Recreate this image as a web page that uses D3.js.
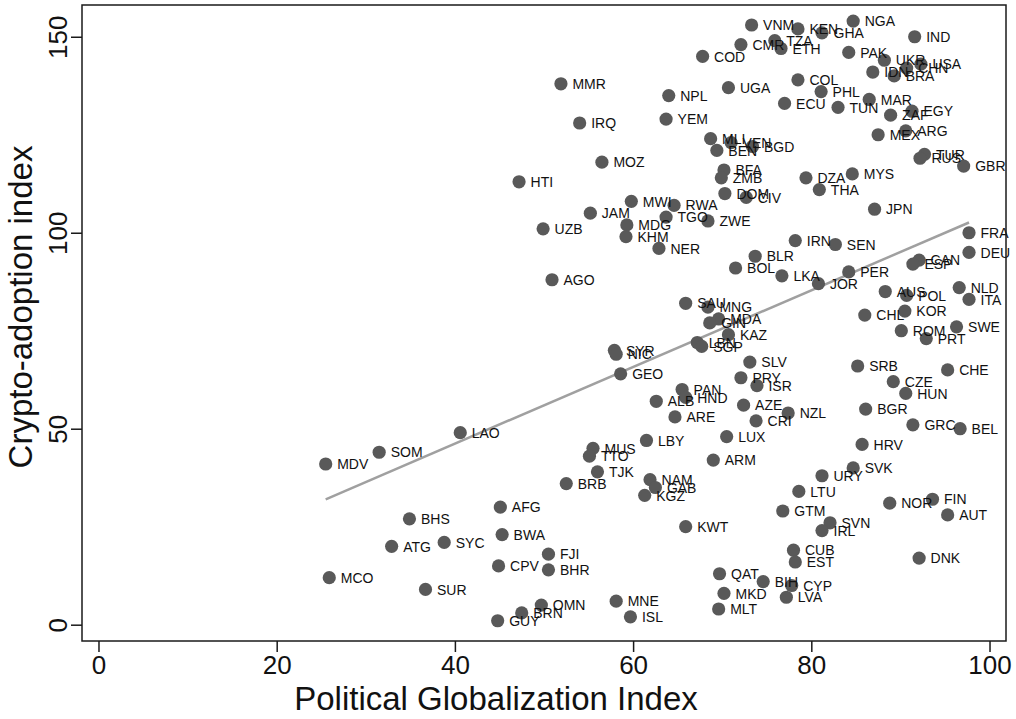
<!DOCTYPE html>
<html><head><meta charset="utf-8">
<script src="https://cdn.jsdelivr.net/npm/d3@7"></script>
<style>body{margin:0;background:#fff}svg{display:block}text{font-family:"Liberation Sans",Arial,sans-serif}</style>
</head><body><svg id="c" width="1016" height="719"></svg>
<script>
const codes = ["HTI","VNM","CMR","COD","MMR","UGA","NPL","IRQ","YEM","MLI","VEN","BEN","BGD","MOZ","BFA","ZMB","DOM","CIV","MWI","RWA","JAM","TGO","ZWE","ECU","KEN","GHA","TZA","ETH","NGA","IND","PAK","UKR","IDN","BRA","CHN","USA","COL","PHL","TUN","MAR","ZAF","EGY","MEX","ARG","TUR","RUS","GBR","DZA","MYS","THA","JPN","UZB","MDG","KHM","NER","BLR","BOL","AGO","LKA","SAU","MNG","MDA","GIN","KAZ","LBN","SGP","SYR","NIC","GEO","SLV","PRY","ISR","PAN","HND","ALB","AZE","ARE","CRI","IRN","SEN","FRA","DEU","CAN","ESP","PER","JOR","AUS","POL","NLD","ITA","KOR","CHL","ROM","PRT","SWE","SRB","CHE","CZE","HUN","BGR","NZL","GRC","BEL","HRV","SVK","URY","LTU","NOR","FIN","AUT","GTM","SVN","IRL","CUB","EST","DNK","CYP","BIH","LVA","LBY","LUX","MUS","TTO","ARM","TJK","BRB","NAM","GAB","KGZ","KWT","FJI","BHR","QAT","MKD","MLT","OMN","MNE","ISL","LAO","SOM","MDV","AFG","BHS","BWA","ATG","SYC","CPV","MCO","SUR","GUY","BRN"];
const politicalGlob = [47.2,73.3,72.1,67.8,51.9,70.7,64.0,54.0,63.7,68.7,71.0,69.4,73.4,56.5,70.2,69.9,70.3,72.7,59.8,64.6,55.2,63.7,68.4,77.0,78.5,81.2,75.9,76.6,84.7,91.6,84.2,88.2,86.9,89.3,90.7,92.3,78.5,81.1,83.0,86.5,88.9,91.3,87.5,90.6,92.7,92.2,97.1,79.4,84.6,80.9,87.1,49.9,59.3,59.2,62.9,73.7,71.5,50.9,76.7,65.9,68.4,69.6,68.6,70.7,67.2,67.7,57.9,58.1,58.6,73.1,72.1,73.9,65.5,65.9,62.6,72.4,64.7,73.8,78.2,82.7,97.7,97.7,92.1,91.4,84.2,80.8,88.3,90.7,96.6,97.7,90.5,86.0,90.1,92.9,96.3,85.2,95.3,89.2,90.6,86.1,77.4,91.4,96.7,85.7,84.7,81.2,78.6,88.8,93.6,95.3,76.8,82.1,81.2,78.0,78.2,92.1,77.8,74.6,77.2,61.5,70.5,55.5,55.1,69.0,56.0,52.5,61.9,62.5,61.3,65.9,50.5,50.5,69.7,70.2,69.6,49.7,58.1,59.7,40.6,31.5,25.5,45.1,34.9,45.3,32.9,38.8,44.9,25.9,36.7,44.8,47.5];
const cryptoAdoption = [113,153,148,145,138,137,135,128,129,124,123,121,122,118,116,114,110,109,108,107,105,104,103,133,152,151,149,147,154,150,146,144,141,140,142,143,139,136,132,134,130,131,125,126,120,119,117,114,115,111,106,101,102,99,96,94,91,88,89,82,81,78,77,74,72,71,70,69,64,67,63,61,60,58,57,56,53,52,98,97,100,95,93,92,90,87,85,84,86,83,80,79,75,73,76,66,65,62,59,55,54,51,50,46,40,38,34,31,32,28,29,26,24,19,16,17,10,11,7,47,48,45,43,42,39,36,37,35,33,25,18,14,13,8,4,5,6,2,49,44,41,30,27,23,20,21,15,12,9,1,3];
const xTicks = [0,20,40,60,80,100];
const yTicks = [0,50,100,150];
const xTitle = "Political Globalization Index";
const yTitle = "Crypto-adoption index";

const svg = d3.select("#c");
const L=82, R=1006, T=5, B=641;
const x = d3.scaleLinear().domain([-1.85,101.85]).range([L,R]);
const y = d3.scaleLinear().domain([-4.16,158.1]).range([B,T]);

svg.append("rect").attr("x",0).attr("y",0).attr("width",1016).attr("height",719).attr("fill","#fff");

// regression line (OLS from data)
const n = codes.length;
const mx = d3.mean(politicalGlob), my = d3.mean(cryptoAdoption);
let sxy=0,sxx=0;
for(let i=0;i<n;i++){sxy+=(politicalGlob[i]-mx)*(cryptoAdoption[i]-my);sxx+=(politicalGlob[i]-mx)**2;}
const b=sxy/sxx, a=my-b*mx;
const [x0,x1]=d3.extent(politicalGlob);
svg.append("line").attr("x1",x(x0)).attr("y1",y(a+b*x0)).attr("x2",x(x1)).attr("y2",y(a+b*x1))
  .attr("stroke","#a0a0a0").attr("stroke-width",2.5);

const g = svg.append("g");
codes.forEach((c,i)=>{
  g.append("circle").attr("cx",x(politicalGlob[i])).attr("cy",y(cryptoAdoption[i])).attr("r",6.6).attr("fill","#595959");
});
codes.forEach((c,i)=>{
  g.append("text").attr("x",x(politicalGlob[i])+11.5).attr("y",y(cryptoAdoption[i])+1.5)
   .attr("dominant-baseline","middle").attr("font-size",14).attr("fill","#111").text(c);
});

// frame
svg.append("rect").attr("x",L).attr("y",T).attr("width",R-L).attr("height",B-T)
  .attr("fill","none").attr("stroke","#1a1a1a").attr("stroke-width",1.5);

const xa = svg.append("g").attr("transform",`translate(0,${B})`)
  .call(d3.axisBottom(x).tickValues(xTicks).tickSize(11).tickPadding(4).tickFormat(d3.format("d")));
xa.select(".domain").remove();
xa.selectAll("line").attr("stroke","#1a1a1a").attr("stroke-width",1.5);
xa.selectAll("text").attr("font-size",26).attr("fill","#111").attr("font-family","Liberation Sans, Arial, sans-serif");

const ya = svg.append("g").attr("transform",`translate(${L},0)`)
  .call(d3.axisLeft(y).tickValues(yTicks).tickSize(11).tickPadding(4).tickFormat(d3.format("d")));
ya.select(".domain").remove();
ya.selectAll("line").attr("stroke","#1a1a1a").attr("stroke-width",1.5);
ya.selectAll("text").attr("font-size",26).attr("fill","#111").attr("font-family","Liberation Sans, Arial, sans-serif")
  .attr("text-anchor","middle").attr("dy",null).attr("x",null).attr("y",null)
  .attr("transform",`translate(-15,0) rotate(-90)`);

svg.append("text").attr("x",496).attr("y",710).attr("text-anchor","middle").attr("font-size",33).attr("fill","#111").text(xTitle);
svg.append("text").attr("transform",`translate(32,307) rotate(-90)`).attr("text-anchor","middle").attr("font-size",33).attr("fill","#111").text(yTitle);
</script></body></html>
